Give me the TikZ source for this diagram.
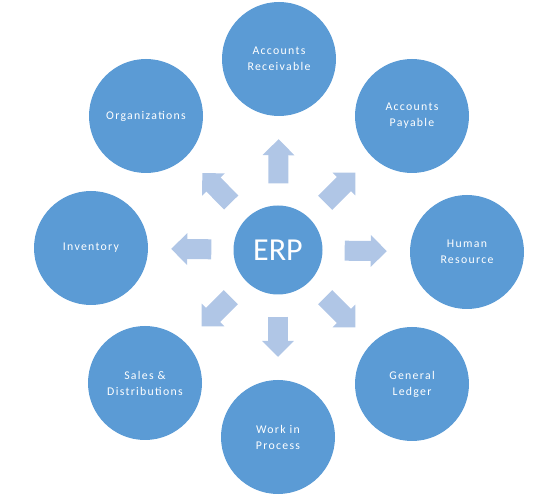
\documentclass[tikz,border=0pt]{standalone}
\usepackage{fontspec}
\setmainfont{Carlito}
\newfontfamily\labelfont{Carlito}[LetterSpace=11]
\usetikzlibrary{arrows.meta}
\definecolor{erpblue}{RGB}{91,155,213}
\definecolor{flowblue}{RGB}{176,198,230}
\begin{document}
\begin{tikzpicture}[x=1pt, y=-1pt,
  module/.style={circle, fill=erpblue, minimum size=114pt, inner sep=0pt, text=white, align=center, font=\labelfont\fontsize{11.8}{16}\selectfont},
  core/.style={circle, fill=erpblue, minimum size=89pt, inner sep=0pt, text=white, font=\fontsize{32}{32}\selectfont},
  flow/.style={draw=flowblue, line width=20pt, -{Triangle[length=16pt, width=31pt]}, shorten <=22pt, shorten >=23pt}]
\useasboundingbox (0,0) rectangle (550,500);

\node[core] (erp) at (278,250) {ERP};
\node[module] (recv) at (279,59) {Accounts\\Receivable};
\node[module] (pay) at (412,116) {Accounts\\Payable};
\node[module] (hr) at (467,252) {Human\\Resource};
\node[module] (ledger) at (412,384) {General\\Ledger};
\node[module] (wip) at (278,437) {Work in\\Process};
\node[module] (sales) at (145,383) {Sales \&\\Distributions};
\node[module] (inv) at (91,248) {Inventory};
\node[module] (org) at (146,116) {Organizations};

\draw[flow] (erp) -- (recv);
\draw[flow] (erp) -- (pay);
\draw[flow] (erp) -- (hr);
\draw[flow] (erp) -- (ledger);
\draw[flow] (erp) -- (wip);
\draw[flow] (erp) -- (sales);
\draw[flow] (erp) -- (inv);
\draw[flow] (erp) -- (org);
\end{tikzpicture}
\end{document}
